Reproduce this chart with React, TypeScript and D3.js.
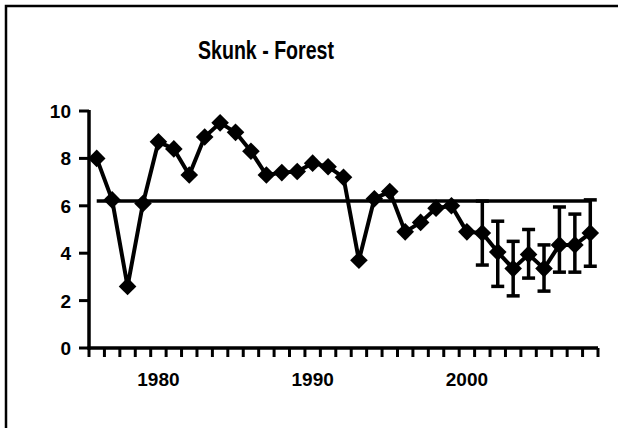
import React from 'react';
import * as d3 from 'd3';

const years = d3.range(1976, 2009);
const values = [
    8.0, 6.25, 2.6, 6.1, 8.7, 8.4, 7.3, 8.9, 9.5, 9.1,
    8.3, 7.3, 7.4, 7.45, 7.8, 7.65, 7.2, 3.7, 6.3, 6.6,
    4.9, 5.3, 5.9, 6.0, 4.9, 4.85, 4.05, 3.35, 3.95, 3.35,
    4.35, 4.35, 4.85,
];
const meanValue = 6.2;
const errYears = [2001, 2002, 2003, 2004, 2005, 2006, 2007, 2008];
const errHigh = [6.2, 5.35, 4.5, 5.0, 4.35, 5.95, 5.65, 6.25];
const errLow = [3.5, 2.6, 2.2, 2.95, 2.4, 3.2, 3.2, 3.45];
const yTicks = [0, 2, 4, 6, 8, 10];
const xLabels = [1980, 1990, 2000];

const W = 618;
const H = 428;
const margin = { left: 89, right: 20, top: 111, bottom: 80 };

export default function App() {
    const x = d3.scaleBand<number>()
        .domain(years)
        .range([margin.left, W - margin.right])
        .padding(0);
    const cx = (yr: number) => x(yr)! + x.bandwidth() / 2;

    const y = d3.scaleLinear()
        .domain([0, 10])
        .range([H - margin.bottom, margin.top]);

    const line = d3.line<number>()
        .x((_, i) => cx(years[i]))
        .y(d => y(d));

    const diamond = d3.symbol().type(d3.symbolSquare).size(155)()!;

    // ticks sit on the category boundaries, like a category axis
    const boundaries = years.map(yr => x(yr)!).concat([x(years[years.length - 1])! + x.bandwidth()]);
    const y0 = y(0);
    const [rangeLeft, rangeRight] = x.range();
    const cap = 6.5;

    return (
        <svg width={W} height={H} style={{ position: 'absolute', left: 0, top: 0, background: '#fff' }}
            fontFamily="'Liberation Sans', Arial, sans-serif">
            {/* chart frame */}
            <rect x={6} y={6} width={W + 50} height={H + 50} fill="none" stroke="#000" strokeWidth={2.5} />

            <text x={266} y={59} textAnchor="middle" fontSize={25} fontWeight="bold"
                textLength={136} lengthAdjust="spacingAndGlyphs">Skunk - Forest</text>

            {/* y axis */}
            <line x1={rangeLeft} x2={rangeLeft} y1={y(10) - 1} y2={y0 + 1.5} stroke="#000" strokeWidth={3.5} />
            {yTicks.map(t => (
                <g key={t}>
                    <line x1={rangeLeft - 10} x2={rangeLeft} y1={y(t)} y2={y(t)} stroke="#000" strokeWidth={3} />
                    <text x={71} y={y(t) + 7} textAnchor="end" fontSize={19} fontWeight="bold">{t}</text>
                </g>
            ))}

            {/* x axis */}
            <line x1={rangeLeft - 1.5} x2={rangeRight} y1={y0} y2={y0} stroke="#000" strokeWidth={3.5} />
            {boundaries.map((bx, i) => (
                <line key={i} x1={bx} x2={bx} y1={y0} y2={y0 + 9} stroke="#000" strokeWidth={3} />
            ))}
            {xLabels.map(yr => (
                <text key={yr} x={cx(yr)} y={y0 + 38} textAnchor="middle" fontSize={19} fontWeight="bold">{yr}</text>
            ))}

            {/* mean line */}
            <line x1={cx(years[0])} x2={cx(years[years.length - 1])} y1={y(meanValue)} y2={y(meanValue)}
                stroke="#000" strokeWidth={3.5} />

            {/* error bars */}
            {errYears.map((yr, i) => (
                <g key={yr} stroke="#000" strokeWidth={3.5}>
                    <line x1={cx(yr)} x2={cx(yr)} y1={y(errHigh[i])} y2={y(errLow[i])} />
                    <line x1={cx(yr) - cap} x2={cx(yr) + cap} y1={y(errHigh[i])} y2={y(errHigh[i])} />
                    <line x1={cx(yr) - cap} x2={cx(yr) + cap} y1={y(errLow[i])} y2={y(errLow[i])} />
                </g>
            ))}

            {/* series */}
            <path d={line(values)!} fill="none" stroke="#000" strokeWidth={4} strokeLinejoin="round" />
            {values.map((v, i) => (
                <path key={years[i]} d={diamond} fill="#000"
                    transform={`translate(${cx(years[i])},${y(v)}) rotate(45)`} />
            ))}
        </svg>
    );
}
